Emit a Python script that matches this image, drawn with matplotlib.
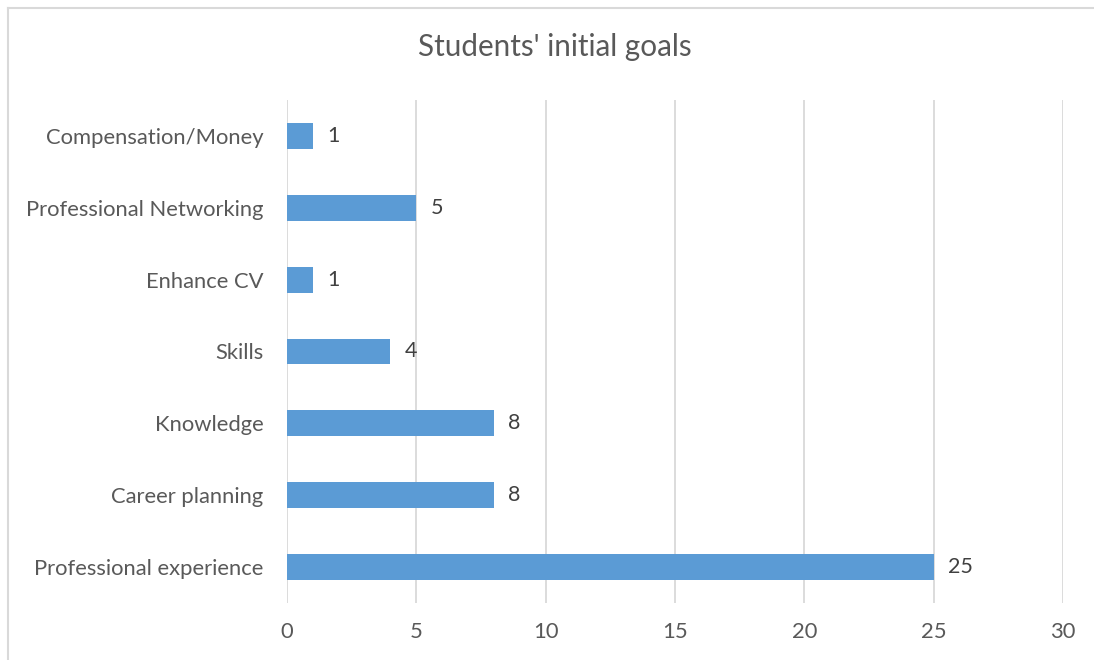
import matplotlib
matplotlib.use("Agg")
import matplotlib.pyplot as plt
from matplotlib.lines import Line2D

categories = ["Professional experience", "Career planning", "Knowledge", "Skills",
              "Enhance CV", "Professional Networking", "Compensation/Money"]
counts = [25, 8, 8, 4, 1, 5, 1]
xticks = [0, 5, 10, 15, 20, 25, 30]

plt.rcParams["font.family"] = ["Lato", "DejaVu Sans"]

fig = plt.figure(figsize=(10.94, 6.6), dpi=100)
ax = fig.add_axes([0.2623, 0.0864, 0.7093, 0.7621])

# chart frame: top and left edges only show inside the image
fx, fy = 7.5 / 1094, 1 - 7.5 / 660
fig.add_artist(Line2D([fx, 1.0], [fy, fy], transform=fig.transFigure,
                      color="#d9d9d9", linewidth=1.5))
fig.add_artist(Line2D([fx, fx], [0.0, fy], transform=fig.transFigure,
                      color="#d9d9d9", linewidth=1.5))

ypos = range(len(categories))
ax.barh(ypos, counts, height=0.36, color="#5b9bd5", zorder=3)
for y, v in zip(ypos, counts):
    ax.text(v + 0.55, y, str(v), va="center", ha="left", fontsize=15.5, color="#404040")

ax.set_xlim(0, 30)
ax.set_ylim(-0.5, len(categories) - 0.5)
ax.set_xticks(xticks)
ax.set_yticks(list(ypos))
ax.set_yticklabels(categories)
ax.tick_params(axis="both", length=0, labelsize=15.8, colors="#595959")
ax.tick_params(axis="y", pad=17)
ax.tick_params(axis="x", pad=14)
ax.xaxis.grid(True, color="#d9d9d9", linewidth=1.3)
for s in ax.spines.values():
    s.set_visible(False)

fig.text(0.507, 0.929, "Students' initial goals", ha="center", va="center",
         fontsize=21.3, color="#595959")

fig.savefig("out.png", dpi=100)
